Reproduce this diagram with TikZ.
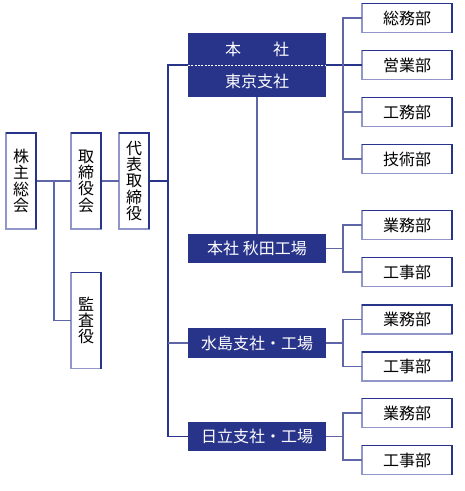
\documentclass[tikz,border=0pt]{standalone}
\usepackage{fontspec}
\setmainfont{Noto Sans CJK JP}
\usetikzlibrary{positioning}
\definecolor{OG_NAVY}{HTML}{28338A}
\definecolor{OG_LAV}{HTML}{9096CA}
\tikzset{
  vbox/.style={
    rectangle, draw=OG_LAV, line width=1.1pt, fill=white,
    minimum width=22.5pt, minimum height=72pt, inner sep=0pt, outer sep=0pt,
    text centered, align=center, font=\fontsize{12pt}{12.25pt}\selectfont},
  dept/.style={
    rectangle, draw=OG_LAV, line width=1.1pt, fill=white,
    minimum width=67.5pt, minimum height=22pt, inner sep=0pt, outer sep=0pt,
    text centered, font=\fontsize{12pt}{12pt}\selectfont},
  site/.style={
    rectangle, fill=OG_NAVY, text=white,
    minimum width=103.5pt, minimum height=22pt, inner sep=0pt, outer sep=0pt,
    text centered, align=center, font=\fontsize{12pt}{12pt}\selectfont},
  ln/.style={draw=OG_NAVY!75, line width=0.8pt},
}
\begin{document}
\begin{tikzpicture}[x=0.75pt, y=-0.75pt]
  \useasboundingbox (0,0) rectangle (464,491);

  % left column
  \node[vbox] (kabu)   at (21,181)  {株\\主\\総\\会};
  \node[vbox] (tori)   at (86,181)  {取\\締\\役\\会};
  \node[vbox] (daihyo) at (134,181) {代\\表\\取\\締\\役};
  \node[vbox] (kansa)  at (86,320.5) {監\\査\\役};

  % sites
  \node[site, minimum height=48pt, font=\fontsize{12pt}{24pt}\selectfont]
    (honsha) at (257,65) {本　　社\\東京支社};
  \node[site] (akita) at (257,248.5) {本社 秋田工場};
  \node[site] (mizu)  at (257,343)   {水島支社・工場};
  \node[site] (hita)  at (257,436.5) {日立支社・工場};
  \draw[white, line width=0.6pt, dash pattern=on 1.5pt off 1pt]
    (honsha.west) -- (honsha.east);

  % departments of head office
  \node[dept] (soumu)   at (407,18)  {総務部};
  \node[dept] (eigyo)   at (407,65)  {営業部};
  \node[dept] (koumu)   at (407,112) {工務部};
  \node[dept] (gijutsu) at (407,159) {技術部};

  % connectors
  \draw[ln] (kabu) -- (tori);
  \draw[ln] (tori) -- (daihyo);
  \coordinate (kj) at (54,181);
  \draw[ln] (kj) |- (kansa.west);

  \coordinate (trunk) at (168,65);
  \draw[ln, draw=OG_NAVY] (honsha.west) -| (trunk) |- (hita.west);
  \draw[ln, draw=OG_NAVY] (daihyo.east) -- (daihyo -| trunk);
  \draw[ln] (mizu.west) -- (mizu -| trunk);

  \coordinate (hbus) at (343,65);
  \draw[ln, draw=OG_NAVY] (honsha.east) -- (eigyo.west);
  \draw[ln] (soumu.west) -| (hbus) |- (gijutsu.west);
  \draw[ln] (koumu.west) -- (koumu -| hbus);
  \draw[ln] (honsha) -- (akita);

  % factory departments
  \foreach \s/\y in {akita/248.5, mizu/343, hita/436.5} {
    \node[dept] (\s-g) at (407,{\y-23.5}) {業務部};
    \node[dept] (\s-k) at (407,{\y+23.5}) {工事部};
    \coordinate (\s-bus) at (343,\y);
    \draw[ln] (\s.east) -- (\s-bus);
    \draw[ln] (\s-g.west) -| (\s-bus) |- (\s-k.west);
  }

  % darker top and right edges
  \foreach \n in {kabu, tori, daihyo, kansa, soumu, eigyo, koumu, gijutsu,
                  akita-g, akita-k, mizu-g, mizu-k, hita-g, hita-k}
    \draw[OG_NAVY, line width=1.1pt] (\n.north west) -- (\n.north east) -- (\n.south east);

\end{tikzpicture}
\end{document}
